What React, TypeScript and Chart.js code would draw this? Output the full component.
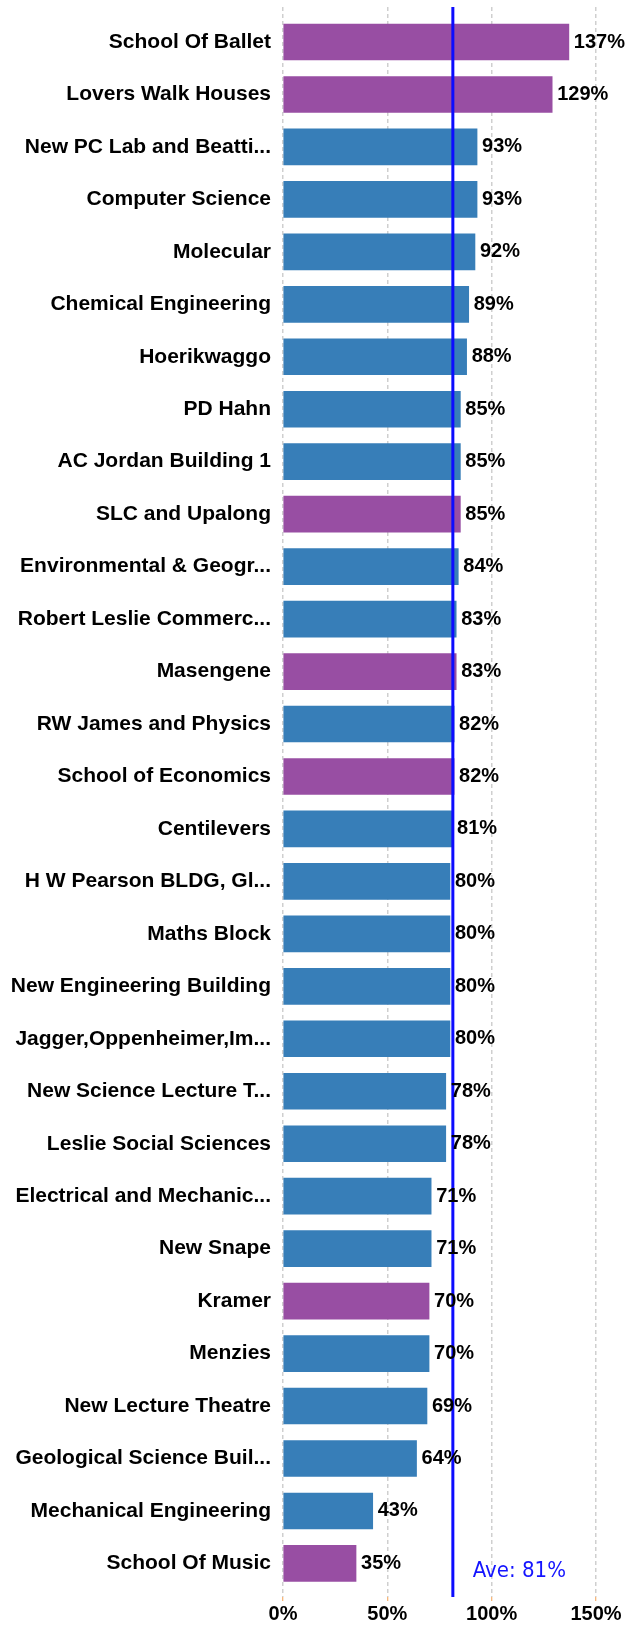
import React, { useEffect, useRef } from "react";
import { Chart, registerables } from "chart.js";

Chart.register(...registerables);

const CATEGORIES = [
  "School Of Ballet",
  "Lovers Walk Houses",
  "New PC Lab and Beatti...",
  "Computer Science",
  "Molecular",
  "Chemical Engineering",
  "Hoerikwaggo",
  "PD Hahn",
  "AC Jordan Building 1",
  "SLC and Upalong",
  "Environmental & Geogr...",
  "Robert Leslie Commerc...",
  "Masengene",
  "RW James and Physics",
  "School of Economics",
  "Centilevers",
  "H W Pearson BLDG, Gl...",
  "Maths Block",
  "New Engineering Building",
  "Jagger,Oppenheimer,Im...",
  "New Science Lecture T...",
  "Leslie Social Sciences",
  "Electrical and Mechanic...",
  "New Snape",
  "Kramer",
  "Menzies",
  "New Lecture Theatre",
  "Geological Science Buil...",
  "Mechanical Engineering",
  "School Of Music",
];

const VALUES = [
  137, 129, 93, 93, 92, 89, 88, 85, 85, 85, 84, 83, 83, 82, 82, 81, 80, 80, 80, 80,
  78, 78, 71, 71, 70, 70, 69, 64, 43, 35,
];

// "R" = residence (purple), "A" = academic (blue)
const GROUPS = [
  "R", "R", "A", "A", "A", "A", "A", "A", "A", "R", "A", "A", "R", "A", "R", "A", "A", "A", "A", "A",
  "A", "A", "A", "A", "R", "A", "A", "A", "A", "R",
];

const X_TICKS = [0, 50, 100, 150];
const AVERAGE = 81.4;
const AVERAGE_LABEL = "Ave: 81%";

const GROUP_COLORS: Record<string, string> = { R: "#984ea3", A: "#377eb8" };
const FONT = "'Liberation Sans', Arial, sans-serif";

const overlayPlugin = {
  id: "overlay",
  afterDatasetsDraw(chart: any) {
    const ctx = chart.ctx;
    const xs = chart.scales.x;
    const ys = chart.scales.y;
    const area = chart.chartArea;
    const ax = xs.getPixelForValue(AVERAGE);
    ctx.save();
    ctx.strokeStyle = "#0c0cff";
    ctx.lineWidth = 3;
    ctx.beginPath();
    ctx.moveTo(ax, area.top);
    ctx.lineTo(ax, area.bottom);
    ctx.stroke();

    const meta = chart.getDatasetMeta(0);
    ctx.font = `bold 20px ${FONT}`;
    ctx.fillStyle = "#000";
    ctx.textAlign = "left";
    ctx.textBaseline = "middle";
    meta.data.forEach((el: any, i: number) => {
      ctx.fillText(`${VALUES[i]}%`, el.x + 5, el.y);
    });

    ctx.font = "22px 'DejaVu Sans Condensed', 'DejaVu Sans', sans-serif";
    ctx.fillStyle = "#1414ff";
    ctx.fillText(AVERAGE_LABEL, ax + 20, ys.getPixelForValue(CATEGORIES.length - 1) + 8);
    ctx.restore();
  },
};

export default function App() {
  const ref = useRef<HTMLCanvasElement | null>(null);

  useEffect(() => {
    if (!ref.current) return;
    const chart = new Chart(ref.current, {
      type: "bar",
      data: {
        datasets: [
          {
            data: VALUES.map((v, i) => ({ x: v, y: i })),
            backgroundColor: GROUPS.map((g) => GROUP_COLORS[g]),
            barThickness: 36,
            borderWidth: 0,
          },
        ],
      },
      options: {
        indexAxis: "y",
        responsive: false,
        animation: false,
        devicePixelRatio: 1,
        layout: { padding: { top: 7, right: 44, left: 0, bottom: 0 } },
        plugins: {
          legend: { display: false },
          tooltip: { enabled: false },
        },
        scales: {
          x: {
            type: "linear",
            position: "bottom",
            min: X_TICKS[0],
            max: X_TICKS[X_TICKS.length - 1],
            offset: false,
            afterBuildTicks: (scale: any) => {
              scale.ticks = X_TICKS.map((v) => ({ value: v }));
            },
            ticks: {
              callback: (v: any) => `${v}%`,
              font: { family: FONT, size: 20, weight: "bold" },
              color: "#000",
              padding: 1,
              maxRotation: 0,
            },
            grid: {
              color: "#cfcfcf",
              lineWidth: 1.5,
              offset: false,
              drawTicks: true,
              tickLength: 4,
              tickColor: "#f5a050",
              tickWidth: 1,
            },
            border: { display: false, dash: [4, 3] },
            afterFit: (scale: any) => {
              scale.height = 28;
              scale.paddingLeft = 0;
              scale.paddingRight = 0;
            },
          },
          y: {
            type: "linear",
            reverse: true,
            offset: false,
            min: -0.667,
            max: 29.64,
            afterBuildTicks: (scale: any) => {
              scale.ticks = CATEGORIES.map((_, i) => ({ value: i }));
            },
            ticks: {
              autoSkip: false,
              includeBounds: false,
              callback: (v: any) => CATEGORIES[v] ?? "",
              font: { family: FONT, size: 21, weight: "bold" },
              color: "#000",
              padding: 12,
            },
            grid: { display: false, drawTicks: false, offset: false },
            border: { display: false },
            afterFit: (scale: any) => {
              scale.width = 283;
              scale.paddingTop = 0;
              scale.paddingBottom = 0;
            },
          },
        },
      },
      plugins: [overlayPlugin],
    } as any);
    return () => chart.destroy();
  }, []);

  return (
    <div style={{ position: "absolute", left: 0, top: 0, width: 640, height: 1625 }}>
      <canvas ref={ref} width={640} height={1625} style={{ display: "block" }} />
    </div>
  );
}
